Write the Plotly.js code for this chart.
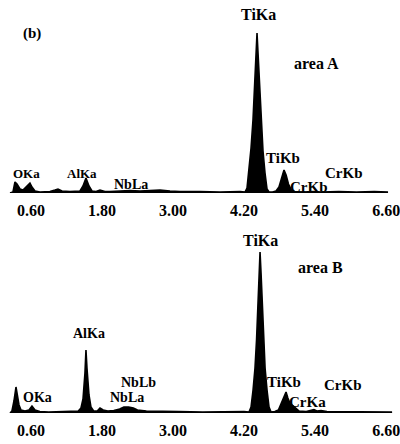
<!DOCTYPE html>
<html>
<head>
<meta charset="utf-8">
<script src="https://cdn.plot.ly/plotly-3.0.1.min.js"></script>
<style>html,body{margin:0;padding:0;background:#fff;}#chart{width:400px;height:444px;}</style>
</head>
<body>
<div id="chart"></div>
<script>
// Energy axis (keV) tick values and labels
const tickVals = [0.6, 1.8, 3.0, 4.2, 5.4, 6.6];
const tickLabels = ['0.60', '1.80', '3.00', '4.20', '5.40', '6.60'];

// Spectrum of area A: energy (keV) and counts
const areaA_energy = [0.247, 0.297, 0.331, 0.365, 0.416, 0.466, 0.517, 0.584, 0.618, 0.669, 0.753, 0.922, 1.007, 1.057, 1.125, 1.260, 1.429, 1.480, 1.530, 1.581, 1.632, 1.700, 1.767, 1.850, 1.936, 2.105, 2.274, 2.443, 2.611, 2.780, 2.949, 3.118, 3.456, 3.794, 4.132, 4.216, 4.250, 4.284, 4.318, 4.351, 4.385, 4.402, 4.419, 4.436, 4.453, 4.486, 4.520, 4.554, 4.588, 4.622, 4.680, 4.740, 4.790, 4.830, 4.875, 4.910, 4.950, 5.000, 5.050, 5.200, 5.365, 5.500, 5.800, 6.100, 6.400, 6.632];
const areaA_counts = [0, 1, 11, 9, 4, 3, 6, 10, 6, 2, 1, 1.5, 3, 4, 2, 1.5, 2, 7, 15, 7, 2, 1.5, 3, 1.5, 1.5, 2, 2.5, 2, 2.5, 3, 2, 1.5, 1.5, 1, 1.5, 1, 5, 23, 45, 73, 120, 140, 160, 140, 118, 70, 42, 20, 4, 1, 1, 2, 6, 14, 23, 18, 9, 3, 1.5, 1, 1.5, 1, 1.5, 1, 1.5, 1];

// Spectrum of area B
const areaB_energy = [0.247, 0.280, 0.314, 0.331, 0.348, 0.365, 0.399, 0.433, 0.500, 0.568, 0.618, 0.669, 0.750, 0.900, 1.100, 1.300, 1.400, 1.446, 1.480, 1.513, 1.530, 1.547, 1.581, 1.614, 1.660, 1.720, 1.767, 1.820, 1.900, 2.000, 2.100, 2.170, 2.250, 2.330, 2.400, 2.550, 2.800, 3.100, 3.500, 3.900, 4.200, 4.284, 4.318, 4.352, 4.385, 4.411, 4.436, 4.453, 4.470, 4.487, 4.504, 4.529, 4.555, 4.588, 4.622, 4.656, 4.720, 4.780, 4.830, 4.875, 4.909, 4.940, 4.980, 5.030, 5.080, 5.130, 5.250, 5.330, 5.380, 5.430, 5.500, 5.600, 5.800, 6.000, 6.300, 6.500, 6.700];
const areaB_counts = [0, 2, 12, 22, 26, 20, 8, 3, 2, 3, 7, 3, 1.5, 1, 1.5, 1.5, 2, 5, 14, 40, 63, 45, 18, 6, 2, 2, 5, 3, 2, 2.5, 4, 6, 6, 5, 3, 2, 1.5, 1.5, 1, 1.5, 1.5, 1, 6, 23, 45, 73, 118, 140, 161, 140, 118, 73, 45, 23, 6, 1, 1.5, 3, 10, 18, 21, 15, 9, 7, 4, 2, 1.5, 2.5, 3.5, 2, 2.5, 1.5, 1.5, 1, 1.5, 1, 1];

// Peak labels
const labelsA = ['OKa', 'AlKa', 'NbLa', 'TiKa', 'TiKb', 'CrKb', 'CrKb'];
const labelsB = ['OKa', 'AlKa', 'NbLb', 'NbLa', 'TiKa', 'TiKb', 'CrKa', 'CrKb'];

const W = 400, H = 444;
const serif = 'Liberation Serif, Times New Roman, serif';
function lab(text, px, py, size) {
  return {
    text: '<b>' + text + '</b>', xref: 'paper', yref: 'paper',
    x: px / W, y: 1 - py / H, xanchor: 'center', yanchor: 'middle',
    showarrow: false, font: {family: serif, size: size, color: '#000'}
  };
}

const traceStyle = {
  type: 'scatter', mode: 'lines', fill: 'tozeroy',
  fillcolor: '#000', line: {color: '#000', width: 1.6}, hoverinfo: 'skip'
};

const data = [
  Object.assign({x: areaA_energy, y: areaA_counts, xaxis: 'x', yaxis: 'y'}, traceStyle),
  Object.assign({x: areaB_energy, y: areaB_counts, xaxis: 'x2', yaxis: 'y2'}, traceStyle)
];

const xCommon = {
  range: [0.078, 6.834], showgrid: false, zeroline: false, showline: false,
  ticks: '', tickvals: tickVals, ticktext: tickLabels.map(t => '<b>' + t + '</b>'),
  tickfont: {family: serif, size: 16, color: '#000'}, ticklabelstandoff: 6,
  ticklabeloverflow: 'allow', fixedrange: true
};
const yCommon = {range: [0, 170], visible: false, showgrid: false, zeroline: false, fixedrange: true};

const annA = [
  lab('(b)', 32, 33, 15),
  lab('area A', 316, 63, 16),
  lab(labelsA[0], 26, 173, 13),
  lab(labelsA[1], 82, 173, 13),
  lab(labelsA[2], 131, 184, 14),
  lab(labelsA[3], 258, 15, 16),
  lab(labelsA[4], 283, 158, 15),
  lab(labelsA[5], 309, 187, 15),
  lab(labelsA[6], 344, 173, 15)
];
const annB = [
  lab('area B', 320, 267, 16),
  lab(labelsB[0], 37, 397, 14),
  lab(labelsB[1], 89, 333, 14),
  lab(labelsB[2], 138, 382, 14),
  lab(labelsB[3], 127, 397, 14),
  lab(labelsB[4], 260, 240, 16),
  lab(labelsB[5], 284, 382, 15),
  lab(labelsB[6], 307, 402, 15),
  lab(labelsB[7], 343, 385, 15)
];

const layout = {
  width: W, height: H, margin: {l: 0, r: 0, t: 0, b: 0},
  paper_bgcolor: '#fff', plot_bgcolor: 'rgba(0,0,0,0)', showlegend: false,
  xaxis: Object.assign({domain: [0, 1], anchor: 'y'}, xCommon),
  yaxis: Object.assign({domain: [1 - 193 / H, 1 - 23 / H], anchor: 'x'}, yCommon),
  xaxis2: Object.assign({domain: [0, 1], anchor: 'y2'}, xCommon),
  yaxis2: Object.assign({domain: [1 - 413 / H, 1 - 243 / H], anchor: 'x2'}, yCommon),
  annotations: annA.concat(annB)
};

Plotly.newPlot('chart', data, layout, {displayModeBar: false, staticPlot: true});
</script>
</body>
</html>
